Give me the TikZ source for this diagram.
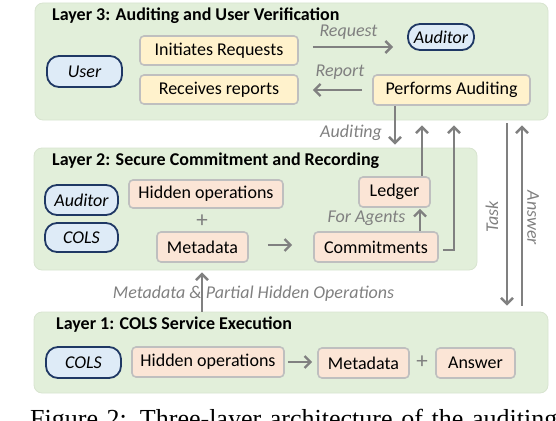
\documentclass[tikz,border=0pt]{standalone}
\usepackage{fontspec}
\setmainfont{Carlito}
\newfontfamily\capfont{Liberation Serif}
\usetikzlibrary{arrows.meta}
\definecolor{panelgreen}{HTML}{E2EFDA}
\definecolor{paneledge}{HTML}{D8E4D0}
\definecolor{boxyellow}{HTML}{FFF2CC}
\definecolor{boxpeach}{HTML}{FBE5D6}
\definecolor{boxedge}{HTML}{BFBFBF}
\definecolor{actorfill}{HTML}{DEEBF7}
\definecolor{actoredge}{HTML}{1F3864}
\definecolor{arrowgray}{HTML}{808080}
\begin{document}
\begin{tikzpicture}[x=1pt,y=-1pt,
  every node/.style={font=\fontsize{18}{20}\selectfont},
  panel/.style={rectangle, rounded corners=8pt, fill=panelgreen, draw=paneledge, line width=0.8pt, inner sep=0},
  ltitle/.style={font=\fontsize{18}{20}\selectfont\bfseries, anchor=base west, inner sep=0},
  ybox/.style={rectangle, rounded corners=4pt, fill=boxyellow, draw=boxedge, line width=1.6pt, inner sep=0},
  pbox/.style={ybox, fill=boxpeach},
  actor/.style={rectangle, rounded corners=12pt, fill=actorfill, draw=actoredge, line width=1.8pt, inner sep=0, font=\fontsize{18}{20}\selectfont\itshape},
  lbl/.style={text=arrowgray, font=\fontsize{18}{20}\selectfont\itshape, inner sep=0},
  plus/.style={text=arrowgray, font=\fontsize{23}{24}\selectfont, inner sep=0},
  arr/.style={draw=arrowgray, line width=2.4pt, -{Straight Barb[length=6pt,width=12pt]}}
]
\useasboundingbox (0,0) rectangle (556,420);
\clip (0,0) rectangle (556,420);

% panels
\node[panel, minimum width=513pt, minimum height=117pt] (L3) at (291.5,61.5) {};
\node[panel, minimum width=443pt, minimum height=122pt] (L2) at (255.5,209) {};
\node[panel, minimum width=514pt, minimum height=81pt] (L1) at (291,352.5) {};

% Layer 3
\node[ltitle] (t3) at (52,21) {Layer 3: Auditing and User Verification};
\node[actor, minimum width=75pt, minimum height=31pt] (user) at (84.5,71.5) {User};
\node[ybox, minimum width=158pt, minimum height=29pt] (initreq) at (219,50.5) {Initiates Requests};
\node[ybox, minimum width=158pt, minimum height=29pt] (recrep) at (219,89.5) {Receives reports};
\node[actor, minimum width=66pt, minimum height=26pt] (aud3) at (441,37) {Auditor};
\node[ybox, minimum width=157pt, minimum height=30pt] (perf) at (451.5,90) {Performs Auditing};
\node[lbl] (lreq) at (348.5,32) {Request};
\node[lbl] (lrep) at (340,72) {Report};

% Layer 2
\node[ltitle] (t2) at (52,165) {Layer 2: Secure Commitment and Recording};
\node[actor, minimum width=73pt, minimum height=30pt] (aud2) at (81.5,200) {Auditor};
\node[actor, minimum width=73pt, minimum height=29pt] (cols2) at (81.5,237.5) {COLS};
\node[pbox, minimum width=154pt, minimum height=28pt] (hid2) at (206,194) {Hidden operations};
\node[plus] (p2) at (202,221) {+};
\node[pbox, minimum width=91pt, minimum height=30pt] (meta2) at (202.5,247) {Metadata};
\node[pbox, minimum width=124pt, minimum height=30pt] (commit) at (376,247) {Commitments};
\node[pbox, minimum width=71pt, minimum height=30pt] (ledger) at (394.5,192) {Ledger};
\node[lbl] (lfa) at (366.5,218) {For Agents};

% Layer 1
\node[ltitle] (t1) at (56,329) {Layer 1: COLS Service Execution};
\node[actor, minimum width=75pt, minimum height=31pt] (cols1) at (83.5,362.5) {COLS};
\node[pbox, minimum width=152pt, minimum height=30pt] (hid1) at (208,362) {Hidden operations};
\node[pbox, minimum width=91pt, minimum height=30pt] (meta1) at (363.5,363) {Metadata};
\node[plus] (p1) at (422,362) {+};
\node[pbox, minimum width=79pt, minimum height=30pt] (ans) at (475.5,363) {Answer};

% between-layer labels
\node[lbl] (laud) at (351,133) {Auditing};
\node[lbl] (lmeta) at (253.5,294) {Metadata \& Partial Hidden Operations};
\node[lbl, rotate=90] (ltask) at (492,217) {Task};
\node[lbl, rotate=-90] (lans) at (533,218) {Answer};

% caption (cut by the lower edge, as in the reference)
\node[anchor=base west, inner sep=0, font=\capfont\fontsize{26}{28}\selectfont] (cap) at (30,427) {\makebox[527pt][s]{Figure 2: Three-layer architecture of the auditing}};

% x positions of vertical connectors
\coordinate (xa) at (395,0);
\coordinate (xb) at (422,0);
\coordinate (xc) at (454,0);
\coordinate (xd) at (420,0);
\coordinate (xe) at (202,0);
\coordinate (xf) at (507,0);
\coordinate (xg) at (522,0);

% connectors
\draw[arr, shorten <=14pt, shorten >=14pt] ([yshift=3.5pt]initreq.east) -- ([yshift=3.5pt]initreq.east -| aud3.west);
\draw[arr, shorten <=10pt, shorten >=14pt] (perf.west) -- (perf.west -| recrep.east);
\draw[arr, shorten >=3pt] (perf.south -| xa) -- (L2.north -| xa);
\draw[arr, shorten >=5pt] (ledger.north -| xb) -- (L3.south -| xb);
\draw[arr, shorten <=4pt, shorten >=5pt] ([yshift=-3pt]commit.east) -| (L3.south -| xc);
\draw[arr, shorten >=1pt] (commit.north -| xd) -- (ledger.south -| xd);
\draw[arr, shorten <=19pt, shorten >=21pt] ([yshift=2pt]meta2.east) -- ([yshift=2pt]meta2.east -| commit.west);
\draw[arr, shorten >=2pt] (L1.north -| xe) -- (L2.south -| xe);
\draw[arr, shorten <=3pt, shorten >=6pt] (L3.south -| xf) -- (L1.north -| xf);
\draw[arr, shorten <=6pt, shorten >=5pt] (L1.north -| xg) -- (L3.south -| xg);
\draw[arr, shorten <=3pt, shorten >=5pt] (hid1.east) -- (hid1.east -| meta1.west);
\end{tikzpicture}
\end{document}
